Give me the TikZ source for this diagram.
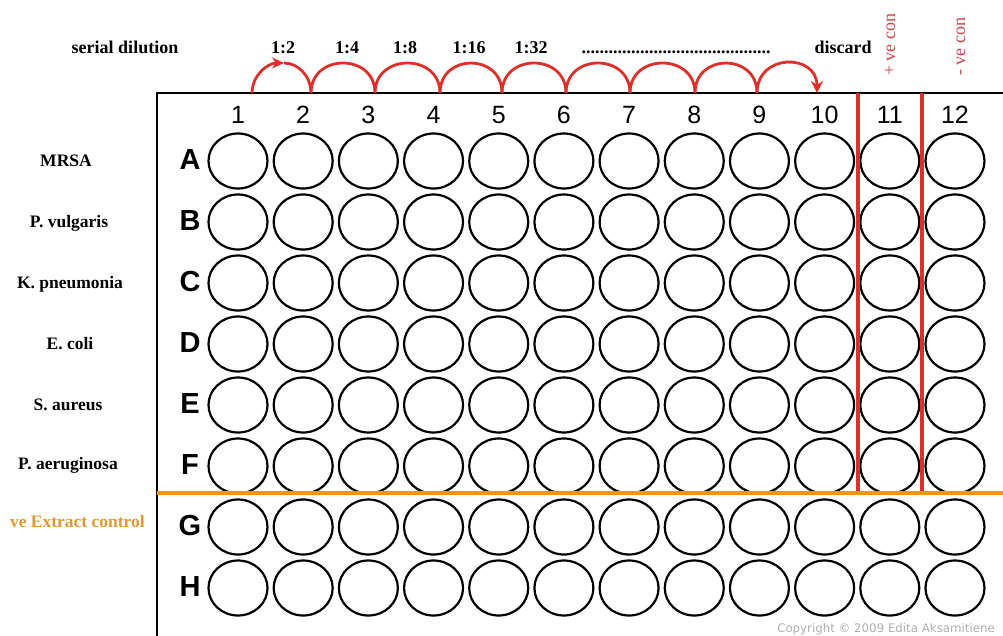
\documentclass[tikz,border=0pt]{standalone}
\usepackage{fontspec}
\setmainfont{Liberation Serif}
\setsansfont{Liberation Sans}
\newfontfamily\copyfont{DejaVu Sans}
\usetikzlibrary{shapes.geometric,arrows.meta}
\definecolor{dilred}{RGB}{222,48,42}
\definecolor{ctrlred}{RGB}{205,70,70}
\definecolor{ctrlorange}{RGB}{240,150,20}
\definecolor{txtorange}{RGB}{228,152,48}
\definecolor{copygray}{RGB}{175,175,175}
\begin{document}
\begin{tikzpicture}[x=1pt,y=1pt,
  well/.style={ellipse,draw,line width=2.2pt,minimum width=59pt,minimum height=55pt,inner sep=0pt},
  rowlab/.style={font=\sffamily\bfseries\fontsize{29}{30}\selectfont,anchor=base},
  collab/.style={font=\sffamily\fontsize{25}{26}\selectfont,anchor=base},
  toplab/.style={font=\bfseries\fontsize{18}{19}\selectfont,anchor=base,inner sep=0pt},
  orglab/.style={font=\bfseries\fontsize{17.5}{18}\selectfont,anchor=base,inner sep=0pt},
  ctrllab/.style={font=\fontsize{18}{19}\selectfont,text=ctrlred,rotate=90,anchor=base west,inner sep=0pt},
  dilarc/.style={draw=dilred,line width=2.8pt},
  plateline/.style={line width=2.4pt},
  ctrlline/.style={line width=4.5pt}]
\useasboundingbox (0,0) rectangle (1003,-635);
\clip (0,0) rectangle (1003,-635);
% plate border
\coordinate (pTL) at (157,-93);
\coordinate (pTR) at (1010,-93);
\coordinate (pBL) at (157,-640);
\draw[plateline] (pTR) -- (pTL) -- (pBL);
% column numbers and wells
\foreach \c in {1,...,12} {
  \node[collab] (C\c) at ({238+65.18*(\c-1)},-123) {\c};
}
\foreach \r [count=\j] in {A,B,C,D,E,F,G,H} {
  \node[rowlab] (L\r) at (190,{-161-61*(\j-1)-8.5}) {\r};
  \foreach \c in {1,...,12} {
    \node[well] (w\r\c) at ({238+65.18*(\c-1)},{-161-61*(\j-1)}) {};
  }
}
% control lines
\coordinate (v1t) at (858,-93); \coordinate (v1b) at (858,-493);
\coordinate (v2t) at (922,-93); \coordinate (v2b) at (922,-493);
\coordinate (hL) at (157,-493); \coordinate (hR) at (1010,-493);
\draw[ctrlline,draw=dilred] (v1t) -- (v1b);
\draw[ctrlline,draw=dilred] (v2t) -- (v2b);
\draw[ctrlline,draw=ctrlorange] (hL) -- (hR);
% dilution arcs
\foreach \x [count=\k from 0] in {252,311,375,440,502,566,630,695,757,817} {
  \coordinate (d\k) at (\x,-93);
}
\coordinate (dtop) at (284,-63);
\draw[dilarc,-{Stealth[length=12pt,width=11pt]}] (d0) .. controls +(0,17) and +(-17,0) .. (dtop);
\draw[dilarc] (dtop) .. controls +(14,0) and +(0,17) .. (d1);
\foreach \a/\b in {1/2,2/3,3/4,4/5,5/6,6/7,7/8,8/9} {
  \ifnum\b=9
    \draw[dilarc,-{Stealth[length=12pt,width=12pt]}] (d\a) .. controls +(0,40) and +(0,40) .. (d\b);
  \else
    \draw[dilarc] (d\a) .. controls +(0,40) and +(0,40) .. (d\b);
  \fi
}
% top labels
\node[toplab] (sd) at (125,-53) {serial dilution};
\node[toplab] (r2) at (283,-53) {1:2};
\node[toplab] (r4) at (347,-53) {1:4};
\node[toplab] (r8) at (405,-53) {1:8};
\node[toplab] (r16) at (469,-53) {1:16};
\node[toplab] (r32) at (531,-53) {1:32};
\node[toplab] (dots) at (676,-53) {..........................................};
\node[toplab] (disc) at (843,-53) {discard};
\node[ctrllab] (pc) at (895,-76) {+ ve con};
\node[ctrllab] (nc) at (965,-76) {- ve con};
% row labels
\node[orglab] (n1) at (66,{-161-5.5}) {MRSA};
\node[orglab] (n2) at (69,{-222-5.5}) {P. vulgaris};
\node[orglab] (n3) at (70,{-283-5.5}) {K. pneumonia};
\node[orglab] (n4) at (70,{-344-5.5}) {E. coli};
\node[orglab] (n5) at (68,{-405-5}) {S. aureus};
\node[orglab] (n6) at (68,{-466-3.5}) {P. aeruginosa};
\node[orglab,text=txtorange,anchor=base east] (n7) at (145,-527) {ve Extract control};
% copyright
\node[font=\copyfont\fontsize{11.8}{12}\selectfont,text=copygray,anchor=base east,inner sep=0pt] (cp) at (995,-632) {Copyright © 2009 Edita Aksamitiene};
\end{tikzpicture}
\end{document}
